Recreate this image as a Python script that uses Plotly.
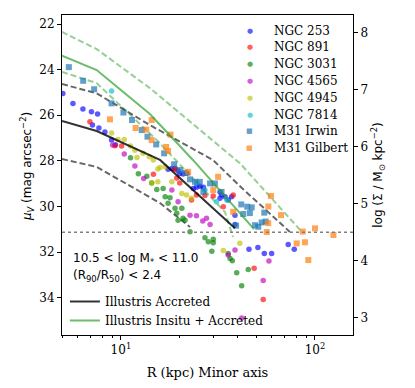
import numpy as np
import plotly.graph_objects as go

# axis limits (R in kpc, mu_V in mag/arcsec^2)
R_LIM = (4.97, 157.0)
MU_LIM = (35.635, 21.605)
MU_ZERO = 42.38          # mu_V = MU_ZERO - 2.5 log(Sigma)
SB_LIMIT = 4.5           # log Sigma of the dotted limit line

# --- observed minor-axis profiles ---
ngc253_r = [5.02, 5.66, 6.37, 7.05, 7.58, 7.13, 7.70, 8.27, 8.95, 9.37, 17.5, 18.3, 19.0, 19.7, 20.1,
            20.9, 21.9, 23.6, 24.5, 25.5, 26.6, 32.4, 33.0, 34.4, 35.7, 37.2, 32.4, 38.7, 38.7, 45.7,
            50.8, 54.8, 59.8, 72.8, 78.2]
ngc253_mu = [25.05, 25.48, 25.73, 25.85, 25.95, 26.43, 26.56, 26.74, 27.09, 27.29, 28.37, 28.33, 28.32,
             28.43, 28.55, 28.58, 28.54, 29.21, 29.16, 29.11, 29.16, 29.36, 29.50, 29.57, 29.72, 29.57,
             29.64, 30.38, 30.79, 31.87, 31.80, 32.06, 32.06, 31.67, 31.88]

ngc891_r = [6.92, 9.31, 10.08, 14.7, 19.0, 19.4, 20.1, 23.1, 24.5, 27.1, 29.9, 33.7, 37.9, 48.6, 54.1]
ngc891_mu = [26.29, 27.34, 27.35, 28.59, 28.37, 28.75, 28.97, 29.72, 29.50, 29.52, 29.54, 30.01, 29.50,
             32.71, 34.08]

ngc3031_r = [11.2, 12.3, 13.6, 14.4, 15.3, 16.5, 16.9, 17.9, 17.5, 19.0, 20.6, 19.4, 20.9, 21.4, 19.7,
             22.7, 27.1, 28.2, 29.9, 29.9, 29.4, 35.7, 36.5, 37.5, 39.5, 41.9, 45.3]
ngc3031_mu = [27.86, 28.56, 28.67, 28.97, 29.26, 29.21, 29.57, 29.62, 29.86, 30.08, 30.08, 30.30, 30.52,
              30.60, 30.60, 31.11, 31.37, 31.55, 31.44, 31.59, 31.96, 32.06, 32.28, 32.38, 32.91, 33.48,
              32.76]

ngc4565_r = [9.06, 10.4, 11.8, 13.1, 18.3, 19.7, 22.7, 24.5, 26.4, 27.6, 28.8, 35.7, 38.7, 54.1, 57.9, 41.9]
ngc4565_mu = [27.31, 27.70, 28.23, 28.77, 29.28, 29.79, 30.38, 30.41, 30.64, 30.52, 30.79, 32.13, 31.91,
              33.25, 32.39, 34.89]

ngc4945_r = [8.95, 9.65, 10.4, 11.2, 11.8, 12.1, 13.0, 14.0, 14.7, 15.9, 16.9, 15.5, 15.5, 14.4, 18.3,
             20.6, 21.8, 23.1, 33.7, 41.0]
ngc4945_mu = [26.78, 27.06, 27.06, 27.35, 27.53, 27.85, 27.67, 27.82, 27.96, 28.29, 28.26, 28.36, 28.92,
              28.96, 28.92, 29.43, 29.50, 29.64, 31.93, 31.61]

ngc7814_r = [8.95, 24.6, 27.1, 31.1, 35.1]
ngc7814_mu = [24.94, 28.97, 29.28, 29.79, 29.72]

m31_irwin_r = [5.39, 6.39, 7.28, 8.95, 10.3, 11.4, 12.8, 13.7, 15.2, 16.7, 18.8, 20.1, 21.4, 22.7, 24.1,
               25.5, 26.6, 28.8, 30.5, 33.0, 41.7, 44.8, 47.2, 42.7, 46.2, 49.1, 51.0, 53.1, 55.7, 54.8,
               39.2]
m31_irwin_mu = [23.89, 24.49, 24.86, 25.48, 25.88, 26.21, 26.65, 26.94, 27.28, 27.67, 28.15, 28.40, 28.52,
                28.81, 28.92, 28.92, 29.36, 28.99, 28.99, 29.36, 29.91, 30.01, 30.04, 30.33, 30.29, 30.82,
                30.89, 30.70, 30.66, 30.27, 30.84]

m31_gilbert_r = [8.78, 11.9, 13.5, 14.4, 14.4, 18.0, 17.1, 17.5, 22.2, 31.7, 29.9, 37.9, 59.3, 57.5, 66.8,
                 57.4, 56.4, 86.4, 100.0, 124.5, 80.5, 88.8, 92.4]
m31_gilbert_mu = [26.18, 26.56, 26.63, 26.21, 27.09, 26.85, 27.39, 27.57, 28.48, 28.70, 29.28, 30.23, 29.54,
                  30.00, 30.38, 30.73, 31.12, 31.10, 30.96, 31.25, 31.62, 31.57, 32.35]

# --- Illustris profiles ---
acc_r = [4.97, 7.5, 15.9, 38.7]
acc_mu = [26.25, 26.69, 27.96, 30.95]
acc_hi_r = [4.97, 7.5, 14.1, 29.8, 42.0, 74.3]
acc_hi_mu = [24.63, 25.04, 26.43, 27.96, 29.19, 31.12]
acc_lo_r = [4.97, 7.52, 15.9, 22.7]
acc_lo_mu = [27.92, 28.27, 29.85, 30.90]

tot_r = [4.97, 7.5, 14.1, 23.5, 48.5]
tot_mu = [23.39, 24.02, 25.95, 27.96, 30.99]
tot_hi_r = [4.97, 7.5, 14.1, 28.8, 41.0, 85.7]
tot_hi_mu = [22.35, 23.10, 24.81, 27.00, 28.10, 31.12]
tot_lo_r = [4.97, 7.5, 15.3, 25.5, 34.4, 37.8]
tot_lo_mu = [24.10, 24.59, 27.09, 29.06, 30.25, 31.34]


def to_sigma(mu):
    return (MU_ZERO - mu) / 2.5


fig = go.Figure()

# model envelopes (dashed), under the points
dash = "6px,3px"
for r, mu, col in [(tot_hi_r, tot_hi_mu, "rgba(44,160,44,0.5)"),
                   (tot_lo_r, tot_lo_mu, "rgba(44,160,44,0.5)"),
                   (acc_hi_r, acc_hi_mu, "rgba(0,0,0,0.6)"),
                   (acc_lo_r, acc_lo_mu, "rgba(0,0,0,0.6)")]:
    fig.add_trace(go.Scatter(x=r, y=mu, mode="lines", showlegend=False,
                             line=dict(color=col, width=2, dash=dash)))

obs = [
    ("NGC 253", ngc253_r, ngc253_mu, "rgba(0,0,255,0.65)", "circle"),
    ("NGC 891", ngc891_r, ngc891_mu, "rgba(255,0,0,0.65)", "circle"),
    ("NGC 3031", ngc3031_r, ngc3031_mu, "rgba(0,128,0,0.65)", "circle"),
    ("NGC 4565", ngc4565_r, ngc4565_mu, "rgba(191,0,191,0.65)", "circle"),
    ("NGC 4945", ngc4945_r, ngc4945_mu, "rgba(191,191,0,0.65)", "circle"),
    ("NGC 7814", ngc7814_r, ngc7814_mu, "rgba(0,191,191,0.65)", "circle"),
    ("M31 Irwin", m31_irwin_r, m31_irwin_mu, "rgba(31,119,180,0.7)", "square"),
    ("M31 Gilbert", m31_gilbert_r, m31_gilbert_mu, "rgba(255,127,14,0.7)", "square"),
]
for name, r, mu, col, sym in obs:
    fig.add_trace(go.Scatter(x=r, y=mu, mode="markers", name=name, showlegend=False,
                             marker=dict(color=col, symbol=sym, size=5.5 if sym == "circle" else 6,
                                         line=dict(width=0))))

fig.add_trace(go.Scatter(x=acc_r, y=acc_mu, mode="lines", name="Illustris Accreted", legend="legend2",
                         line=dict(color="rgba(0,0,0,0.8)", width=2)))
fig.add_trace(go.Scatter(x=tot_r, y=tot_mu, mode="lines", name="Illustris Insitu + Accreted",
                         legend="legend2", line=dict(color="rgba(44,160,44,0.7)", width=2)))

# surface brightness limit, on the stellar mass density axis
fig.add_trace(go.Scatter(x=list(R_LIM), y=[SB_LIMIT, SB_LIMIT], yaxis="y2", mode="lines", showlegend=False,
                         line=dict(color="gray", width=1.5, dash="dot")))

# compact legend for the observed galaxies (tighter rows than plotly's own legend)
annotations = []
for i, (name, _, _, col, sym) in enumerate(obs):
    yy = 0.951 - 0.0525 * i
    annotations.append(dict(text="●" if sym == "circle" else "■", x=0.646, y=yy, xref="paper", yref="paper",
                            xanchor="center", yanchor="middle", showarrow=False,
                            font=dict(family="DejaVu Sans", size=7, color=col)))
    annotations.append(dict(text=name, x=0.72, y=yy, xref="paper", yref="paper",
                            xanchor="left", yanchor="middle", showarrow=False,
                            font=dict(family="DejaVu Serif", size=12)))

annotations += [
    dict(text="10.5 < log M<sub>*</sub> < 11.0", x=0.031, y=0.237, xref="paper", yref="paper",
         xanchor="left", yanchor="middle", showarrow=False, font=dict(family="DejaVu Sans", size=12)),
    dict(text="(R<sub>90</sub>/R<sub>50</sub>) < 2.4", x=0.031, y=0.185, xref="paper", yref="paper",
         xanchor="left", yanchor="middle", showarrow=False, font=dict(family="DejaVu Sans", size=12)),
    # left axis title, placed by hand to sit as close to the tick labels as in the original
    dict(text="<i>μ</i><sub><i>V</i></sub> (mag arcsec<sup>−2</sup>)", x=-0.12, y=0.525,
         xref="paper", yref="paper", xanchor="center", yanchor="middle", textangle=-90, showarrow=False,
         font=dict(family="DejaVu Sans", size=12)),
]

minor_vals = [5, 6, 7, 8, 9, 20, 30, 40, 50, 60, 70, 80, 90]
axis_common = dict(showline=True, linecolor="black", linewidth=1, showgrid=False, zeroline=False,
                   ticks="outside", tickcolor="black", ticklen=4, tickwidth=1)

# the page body adds an 8px offset, so the figure is 8px smaller than the window
fig.update_layout(
    width=407, height=380,
    margin=dict(l=54, r=62, t=7, b=53),
    plot_bgcolor="white", paper_bgcolor="white",
    font=dict(family="DejaVu Serif", size=12, color="black"),
    xaxis=dict(type="log", range=[np.log10(R_LIM[0]), np.log10(R_LIM[1])], mirror=True,
               tickvals=[10, 100], ticktext=["10<sup>1</sup>", "10<sup>2</sup>"],
               minor=dict(tickvals=minor_vals, ticks="outside", ticklen=2, tickcolor="black"),
               title=dict(text="R (kpc) Minor axis", font=dict(size=13), standoff=11), **axis_common),
    yaxis=dict(range=list(MU_LIM), tickvals=list(range(22, 35, 2)), mirror=True, **axis_common),
    yaxis2=dict(overlaying="y", side="right", range=[to_sigma(MU_LIM[0]), to_sigma(MU_LIM[1])],
                tickvals=list(range(3, 9)),
                title=dict(text="log (Σ / M<sub>⊙</sub> kpc<sup>−2</sup>)",
                           font=dict(family="DejaVu Sans", size=12), standoff=6), **axis_common),
    legend2=dict(x=0.01, y=0.15, xanchor="left", yanchor="top", bgcolor="rgba(0,0,0,0)",
                 font=dict(size=12), tracegroupgap=0),
    annotations=annotations,
)

fig.write_html("out.html")
